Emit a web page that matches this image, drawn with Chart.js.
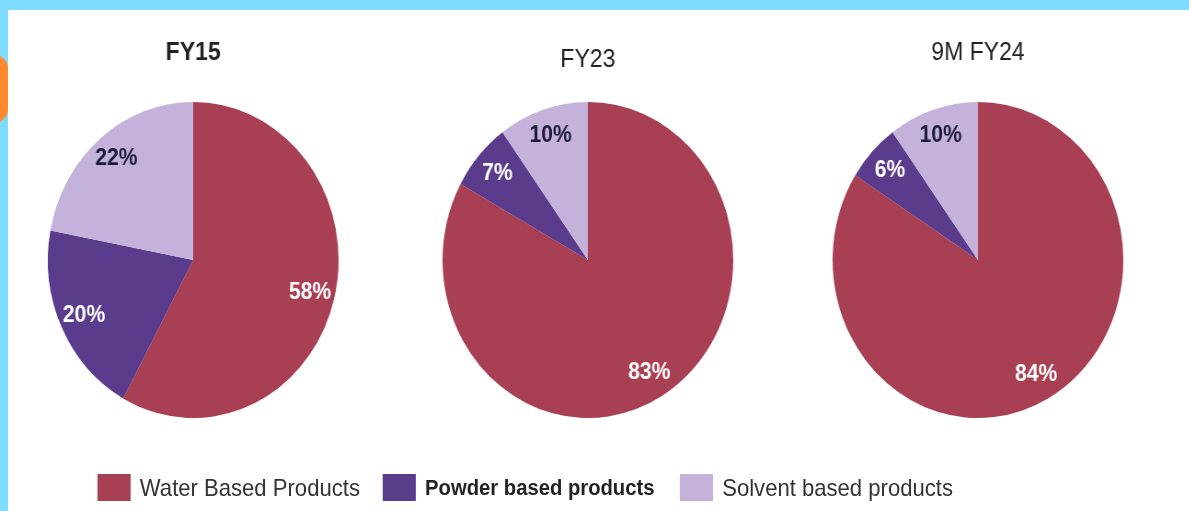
<!DOCTYPE html>
<html>
<head>
<meta charset="utf-8">
<script src="https://cdn.jsdelivr.net/npm/chart.js@4/dist/chart.umd.min.js"></script>
<style>
  html, body { margin: 0; padding: 0; background: #fff; }
  body { width: 1189px; height: 511px; position: relative; overflow: hidden; font-family: "Liberation Sans", Arial, sans-serif; }
  .band-top { position: absolute; left: 0; top: 0; width: 1189px; height: 10px; background: #7fdcff; }
  .band-left { position: absolute; left: 0; top: 0; width: 8px; height: 511px; background: #7fdcff; }
  .blob { position: absolute; left: -22px; top: 55px; width: 30px; height: 68px; border-radius: 14px; background: #ff8a2e; }
  #stage { position: absolute; left: 0; top: 0; width: 1292px; height: 511px; transform: scaleX(0.92); transform-origin: 0 0; }
  #stage canvas { position: absolute; top: 0; }
  #legend { position: absolute; top: 473px; left: 0; width: 1292px; height: 28px; }
  .item { position: absolute; top: 0; height: 28px; }
  .swatch { position: absolute; left: 0; top: 1px; width: 36px; height: 27px; }
  .txt { position: absolute; top: 0; line-height: 30px; font-size: 24px; color: #333; white-space: nowrap; }
</style>
</head>
<body>
<div class="band-top"></div>
<div class="band-left"></div>
<div class="blob"></div>
<div id="stage">
  <canvas id="pie1" width="400" height="440" style="left:10px"></canvas>
  <canvas id="pie2" width="400" height="440" style="left:439px"></canvas>
  <canvas id="pie3" width="400" height="440" style="left:863px"></canvas>
  <div id="legend"></div>
</div>
<script>
// data
const categories = ['Water Based Products', 'Powder based products', 'Solvent based products'];
const periods = ['FY15', 'FY23', '9M FY24'];
const fy15 = [58, 20, 22];
const fy23 = [83, 7, 10];
const fy24 = [84, 6, 10];

const colors = ['#a83f52', '#5b3b8c', '#c4b2da'];
const labelColors = ['#ffffff', '#ffffff', '#1c1a3a'];

// draws the % labels inside each slice
const sliceLabels = {
    id: 'sliceLabels',
    afterDatasetsDraw(chart) {
        const ctx = chart.ctx;
        const meta = chart.getDatasetMeta(0);
        const values = chart.data.datasets[0].data;
        ctx.save();
        ctx.font = 'bold 23px "Liberation Sans", Arial, sans-serif';
        ctx.textAlign = 'center';
        ctx.textBaseline = 'middle';
        meta.data.forEach((arc, i) => {
            const p = arc.getProps(['x', 'y', 'startAngle', 'endAngle', 'outerRadius'], true);
            const mid = (p.startAngle + p.endAngle) / 2;
            const r = p.outerRadius * 0.83;
            ctx.fillStyle = labelColors[i];
            ctx.fillText(values[i] + '%', p.x + Math.cos(mid) * r, p.y + Math.sin(mid) * r);
        });
        ctx.restore();
    }
};

function createPie(id, title, values, titleTop, bold) {
    const ctx = document.getElementById(id).getContext('2d');
    // title box is 30px high, pie area starts at y=102
    return new Chart(ctx, {
        type: 'pie',
        data: {
            labels: categories,
            datasets: [{
                data: values,
                backgroundColor: colors,
                borderWidth: 0
            }]
        },
        options: {
            responsive: false,
            animation: false,
            layout: { padding: { top: 0, bottom: 22, left: 0, right: 0 } },
            plugins: {
                legend: { display: false },
                tooltip: { enabled: false },
                title: {
                    display: true,
                    text: title,
                    color: '#222222',
                    font: { family: '"Liberation Sans", Arial, sans-serif', size: 25, weight: bold ? 'bold' : 'normal', lineHeight: 1.2 },
                    padding: { top: titleTop, bottom: 102 - titleTop - 30 }
                }
            }
        },
        plugins: [sliceLabels]
    });
}

createPie('pie1', periods[0], fy15, 38, true);
createPie('pie2', periods[1], fy23, 45, false);
createPie('pie3', periods[2], fy24, 38, false);

// legend under the pies
const legendX = [106, 416, 739];
const legendStyle = ['', 'font-weight:bold;font-size:22px;color:#222', ''];
const legend = document.getElementById('legend');
categories.forEach((name, i) => {
    const item = document.createElement('div');
    item.className = 'item';
    item.style.left = legendX[i] + 'px';
    item.innerHTML = '<div class="swatch" style="background:' + colors[i] + '"></div>' +
        '<div class="txt" style="left:46px;' + legendStyle[i] + '">' + name + '</div>';
    legend.appendChild(item);
});
</script>
</body>
</html>
